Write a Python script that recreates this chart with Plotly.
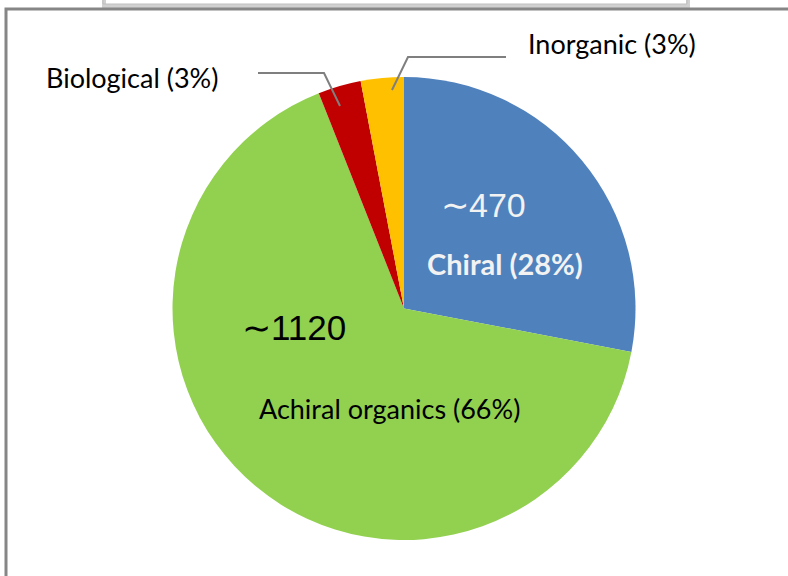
import plotly.graph_objects as go

# Data
categories = ["Chiral", "Achiral organics", "Biological", "Inorganic"]
percent = [28, 66, 3, 3]
approx_counts = ["∼470", "∼1120", None, None]
colors = ["#4F81BD", "#92D050", "#C00000", "#FFC000"]

W, H = 788, 576

def px(x):
    return x / W

def py(y):
    return 1 - y / H

fig = go.Figure()
fig.add_trace(go.Pie(
    labels=categories,
    values=percent,
    sort=False,
    direction="clockwise",
    rotation=0,
    marker=dict(colors=colors, line=dict(width=0)),
    textinfo="none",
    hoverinfo="label+percent",
    showlegend=False,
    domain=dict(x=[px(172), px(636)], y=[py(540), py(77)]),
))

font_main = "Lato, 'Open Sans', sans-serif"
font_num = "'Liberation Sans', Arial, sans-serif"

annots = [
    dict(text=f"{categories[2]} ({percent[2]}%)", x=px(132), y=py(77), font=dict(size=27, color="black", family=font_main)),
    dict(text=f"{categories[3]} ({percent[3]}%)", x=px(612), y=py(44), font=dict(size=27, color="black", family=font_main)),
    dict(text=approx_counts[0], x=px(484), y=py(205), font=dict(size=34, color="#F2F2F2", family=font_num)),
    dict(text=f"<b>{categories[0]} ({percent[0]}%)</b>", x=px(505), y=py(263), font=dict(size=29, color="#F2F2F2", family=font_main)),
    dict(text=approx_counts[1], x=px(294), y=py(327), font=dict(size=35, color="black", family=font_num)),
    dict(text=f"{categories[1]} ({percent[1]}%)", x=px(389), y=py(408), font=dict(size=27, color="black", family=font_main)),
]
for a in annots:
    fig.add_annotation(xref="paper", yref="paper", showarrow=False, xanchor="center", yanchor="middle", **a)

line_c = "#7F7F7F"
shapes = [
    # leader lines
    dict(type="path", path=f"M {px(258)} {py(73)} L {px(324)} {py(73)} L {px(340)} {py(106)}",
         line=dict(color=line_c, width=2)),
    dict(type="path", path=f"M {px(392)} {py(90)} L {px(408)} {py(57)} L {px(506)} {py(57)}",
         line=dict(color=line_c, width=2)),
    # top box (frame remnant) with shadow
    dict(type="path", path=f"M {px(104)} {py(0)} L {px(104)} {py(6)} L {px(688)} {py(6)} L {px(688)} {py(0)}",
         line=dict(color="#D0D0D0", width=4)),
    dict(type="path", path=f"M {px(103)} {py(0)} L {px(103)} {py(4)} L {px(687)} {py(4)} L {px(687)} {py(0)}",
         line=dict(color="#BFBFBF", width=1)),
    # main frame
    dict(type="path", path=f"M {px(6)} {py(576)} L {px(6)} {py(9)} L {px(788)} {py(9)}",
         line=dict(color="#868686", width=3)),
]
for s in shapes:
    fig.add_shape(xref="paper", yref="paper", **s)

fig.update_layout(
    width=W, height=H,
    margin=dict(l=0, r=0, t=0, b=0),
    paper_bgcolor="white",
    plot_bgcolor="white",
)

fig.write_html("out.html", config={"displayModeBar": False},
               post_script="document.body.style.margin='0';document.body.style.overflow='hidden';")
